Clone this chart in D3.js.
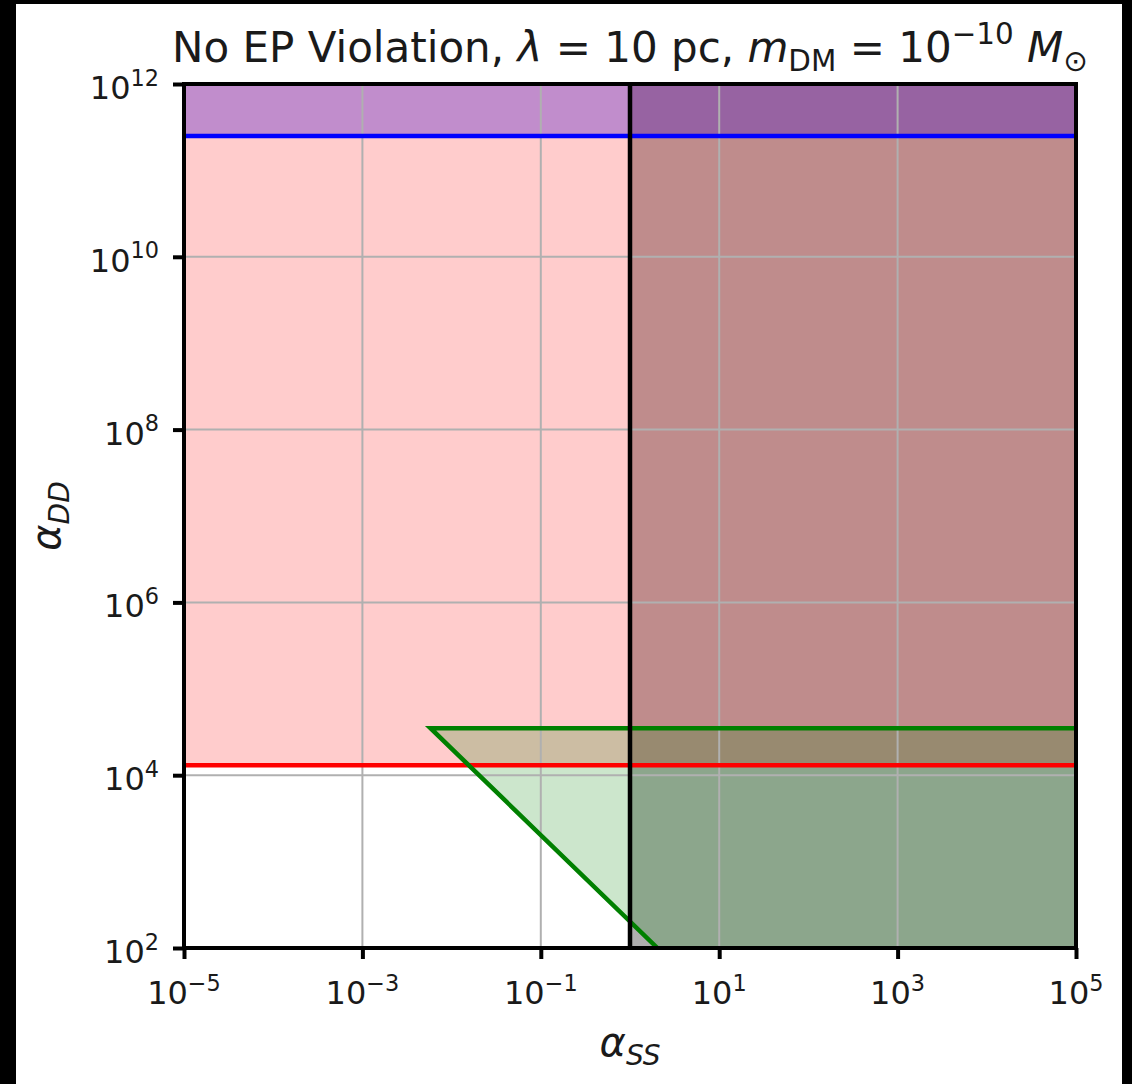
<!DOCTYPE html>
<html>
<head>
<meta charset="utf-8">
<script src="https://cdn.jsdelivr.net/npm/d3@7"></script>
<style>
  html, body { margin: 0; padding: 0; background: #000; }
  svg { display: block; }
  text { font-family: "DejaVu Sans", sans-serif; fill: #1a1a1a; }
</style>
</head>
<body>
<script>
// Axis ranges (log10 scales)
const xDomain = [1e-5, 1e5];
const yDomain = [1e2, 1e12];

// Major ticks and their exponent labels
const xTicks = [1e-5, 1e-3, 1e-1, 1e1, 1e3, 1e5];
const xTickExp = ["\u22125", "\u22123", "\u22121", "1", "3", "5"];
const yTicks = [1e2, 1e4, 1e6, 1e8, 1e10, 1e12];
const yTickExp = ["2", "4", "6", "8", "10", "12"];

// Excluded-region bounds
const ssBound = 1;           // alpha_SS limit (vertical line)
const ddLowerBound = 1.3e4;  // red line
const ddUpperBound = 2.5e11; // blue line

// Green region outline: flat top, then alpha_DD * alpha_SS = const edge
const greenEdgeX = [1e5, 5.8e-3, 2.03];
const greenEdgeY = [3.5e4, 3.5e4, 1e2];

const W = 1132, H = 1084;
const plot = { left: 184, right: 1076, top: 84, bottom: 948 };
const lw = 4.5;

const svg = d3.select("body").append("svg")
  .attr("width", W).attr("height", H);

// white figure canvas
svg.append("rect").attr("x", 16).attr("y", 4)
  .attr("width", 1106).attr("height", H - 4).attr("fill", "#fff");

const x = d3.scaleLog().domain(xDomain).range([plot.left, plot.right]);
const y = d3.scaleLog().domain(yDomain).range([plot.bottom, plot.top]);

svg.append("clipPath").attr("id", "plotclip").append("rect")
  .attr("x", plot.left).attr("y", plot.top)
  .attr("width", plot.right - plot.left).attr("height", plot.bottom - plot.top);

const g = svg.append("g").attr("clip-path", "url(#plotclip)");

const area = d3.area().x(d => x(d[0])).y0(d => y(d[1])).y1(d => y(d[2]));

// grey: alpha_SS above bound
g.append("path")
  .datum([[ssBound, yDomain[0], yDomain[1]], [xDomain[1], yDomain[0], yDomain[1]]])
  .attr("d", area).attr("fill", "#000").attr("fill-opacity", 0.314);

// red: alpha_DD above lower bound
g.append("path")
  .datum([[xDomain[0], ddLowerBound, yDomain[1]], [xDomain[1], ddLowerBound, yDomain[1]]])
  .attr("d", area).attr("fill", "#ff0000").attr("fill-opacity", 0.2);

// green region
const greenPoly = greenEdgeX.map((v, i) => [x(v), y(greenEdgeY[i])]);
greenPoly.push([x(xDomain[1]), y(yDomain[0])]);
g.append("path")
  .attr("d", "M" + greenPoly.map(p => p.join(",")).join("L") + "Z")
  .attr("fill", "#008000").attr("fill-opacity", 0.2);

// purple: above upper bound
g.append("path")
  .datum([[xDomain[0], ddUpperBound, yDomain[1]], [xDomain[1], ddUpperBound, yDomain[1]]])
  .attr("d", area).attr("fill", "#4815cc").attr("fill-opacity", 0.34);

// grid
const grid = g.append("g").attr("stroke", "#b0b0b0").attr("stroke-width", 2);
grid.selectAll(".gx").data(xTicks).join("line")
  .attr("x1", d => x(d)).attr("x2", d => x(d))
  .attr("y1", plot.top).attr("y2", plot.bottom);
grid.selectAll(".gy").data(yTicks).join("line")
  .attr("y1", d => y(d)).attr("y2", d => y(d))
  .attr("x1", plot.left).attr("x2", plot.right);

// boundary lines
const line = d3.line().x(d => x(d[0])).y(d => y(d[1]));
g.append("path").datum([[xDomain[0], ddLowerBound], [xDomain[1], ddLowerBound]])
  .attr("d", line).attr("stroke", "#ff0000").attr("stroke-width", lw).attr("fill", "none");
g.append("path").datum([[xDomain[0], ddUpperBound], [xDomain[1], ddUpperBound]])
  .attr("d", line).attr("stroke", "#0000ff").attr("stroke-width", lw).attr("fill", "none");
g.append("path").datum(greenEdgeX.map((v, i) => [v, greenEdgeY[i]]))
  .attr("d", line).attr("stroke", "#008000").attr("stroke-width", lw)
  .attr("fill", "none").attr("stroke-linejoin", "miter");
g.append("path").datum([[ssBound, yDomain[0]], [ssBound, yDomain[1]]])
  .attr("d", line).attr("stroke", "#000").attr("stroke-width", lw).attr("fill", "none");

// axes (ticks only; labels drawn as mathtext-like text)
const xAxis = svg.append("g").attr("transform", `translate(0,${plot.bottom})`)
  .call(d3.axisBottom(x).tickValues(xTicks).tickSize(11).tickFormat(""));
const yAxis = svg.append("g").attr("transform", `translate(${plot.left},0)`)
  .call(d3.axisLeft(y).tickValues(yTicks).tickSize(11).tickFormat(""));
[xAxis, yAxis].forEach(a => {
  a.selectAll(".domain").remove();
  a.selectAll(".tick line").attr("stroke", "#000").attr("stroke-width", 4);
});

// frame
svg.append("rect").attr("x", plot.left).attr("y", plot.top)
  .attr("width", plot.right - plot.left).attr("height", plot.bottom - plot.top)
  .attr("fill", "none").attr("stroke", "#000").attr("stroke-width", 4);

const tickFont = 32;
function powLabel(sel, exp) {
  sel.append("tspan").text("10");
  sel.append("tspan").attr("font-size", tickFont * 0.7).attr("dy", -tickFont * 0.42).text(exp);
}

xTicks.forEach((t, i) => {
  const txt = svg.append("text").attr("x", x(t)).attr("y", 1004)
    .attr("font-size", tickFont).attr("text-anchor", "middle");
  powLabel(txt, xTickExp[i]);
});
yTicks.forEach((t, i) => {
  const txt = svg.append("text").attr("x", 159).attr("y", y(t) + 15)
    .attr("font-size", tickFont).attr("text-anchor", "end");
  powLabel(txt, yTickExp[i]);
});

// axis labels
const labFont = 40;
const xl = svg.append("text").attr("x", (plot.left + plot.right) / 2).attr("y", 1056)
  .attr("font-size", labFont).attr("text-anchor", "middle");
xl.append("tspan").attr("font-style", "italic").text("\u03b1");
xl.append("tspan").attr("font-style", "italic").attr("font-size", labFont * 0.7)
  .attr("dy", labFont * 0.22).text("SS");

const yl = svg.append("text")
  .attr("transform", `translate(60,${(plot.top + plot.bottom) / 2}) rotate(-90)`)
  .attr("font-size", labFont).attr("text-anchor", "middle");
yl.append("tspan").attr("font-style", "italic").text("\u03b1");
yl.append("tspan").attr("font-style", "italic").attr("font-size", labFont * 0.7)
  .attr("dy", labFont * 0.22).text("DD");

// title
const tFont = 42;
const title = svg.append("text").attr("x", (plot.left + plot.right) / 2).attr("y", 62)
  .attr("font-size", tFont).attr("text-anchor", "middle");
title.append("tspan").text("No EP Violation, ");
title.append("tspan").attr("font-style", "italic").text("\u03bb");
title.append("tspan").text(" = 10 pc, ");
title.append("tspan").attr("font-style", "italic").text("m");
title.append("tspan").attr("font-size", tFont * 0.7).attr("dy", tFont * 0.22).text("DM");
title.append("tspan").attr("dy", -tFont * 0.22).text(" = 10");
title.append("tspan").attr("font-size", tFont * 0.7).attr("dy", -tFont * 0.42).text("\u221210");
title.append("tspan").attr("dy", tFont * 0.42).attr("font-style", "italic").text(" M");
title.append("tspan").attr("font-size", tFont * 0.7).attr("dy", tFont * 0.22).text("\u2299");
</script>
</body>
</html>
